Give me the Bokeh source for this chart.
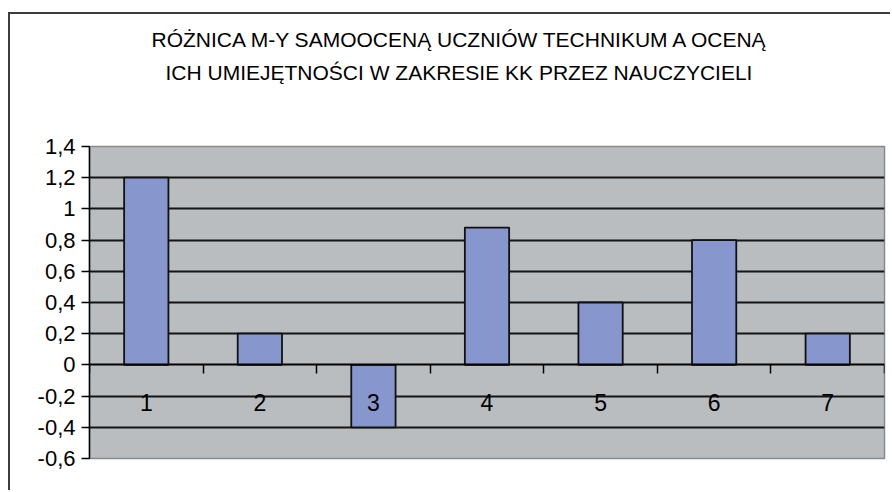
from bokeh.plotting import figure
from bokeh.models import Range1d, FixedTicker, LinearAxis, Title, Grid
from bokeh.embed import file_html
from bokeh.resources import INLINE

# ---- data ----
categories = ["1", "2", "3", "4", "5", "6", "7"]
positions = [1, 2, 3, 4, 5, 6, 7]
values = [1.2, 0.2, -0.4, 0.88, 0.4, 0.8, 0.2]
y_ticks = [-0.6, -0.4, -0.2, 0.0, 0.2, 0.4, 0.6, 0.8, 1.0, 1.2, 1.4]
y_tick_labels = ["-0,6", "-0,4", "-0,2", "0", "0,2", "0,4", "0,6", "0,8", "1", "1,2", "1,4"]
grid_ticks = [-0.4, -0.2, 0.2, 0.4, 0.6, 0.8, 1.0, 1.2]
boundaries = [0.5, 1.5, 2.5, 3.5, 4.5, 5.5, 6.5, 7.5]
title_line1 = "RÓŻNICA M-Y SAMOOCENĄ UCZNIÓW TECHNIKUM A OCENĄ"
title_line2 = "ICH UMIEJĘTNOŚCI W ZAKRESIE KK PRZEZ NAUCZYCIELI"

FONT = "Liberation Sans"

p = figure(width=890, height=490, output_backend="svg", toolbar_location=None,
           x_range=Range1d(0.5, 7.5), y_range=Range1d(-0.6, 1.4),
           x_axis_type=None, y_axis_type=None,
           min_border_left=89, min_border_right=6, min_border_top=146, min_border_bottom=32)
p.border_fill_color = None
p.styles = {
    "background": "linear-gradient(#3c3c3c, #3c3c3c) 8px 12px / 100% 2px no-repeat, "
                  "linear-gradient(#3c3c3c, #3c3c3c) 8px 12px / 2px 100% no-repeat, #ffffff"
}

p.background_fill_color = "#B9BDC0"
p.outline_line_color = "#8a8a8a"
p.outline_line_width = 1.5

# bars
p.vbar(x=positions, top=values, bottom=0, width=0.39,
       fill_color="#8796CC", line_color="#111111", line_width=1.8)

# y axis
yaxis = LinearAxis(ticker=FixedTicker(ticks=y_ticks, minor_ticks=[]))
yaxis.major_label_overrides = {t: l for t, l in zip(y_ticks, y_tick_labels)}
yaxis.major_tick_out = 8
yaxis.major_tick_in = 0
yaxis.major_tick_line_color = "black"
yaxis.major_tick_line_width = 1.5
yaxis.axis_line_color = "black"
yaxis.axis_line_width = 1.5
yaxis.major_label_standoff = 6
yaxis.major_label_text_font = FONT
yaxis.major_label_text_font_size = "22px"
yaxis.major_label_text_color = "black"
p.add_layout(yaxis, "left")

# horizontal grid
grid = Grid(dimension=1, ticker=FixedTicker(ticks=grid_ticks),
            grid_line_color="#141414", grid_line_width=2)
p.add_layout(grid)

# x axis at zero
xaxis = LinearAxis(ticker=FixedTicker(ticks=positions, minor_ticks=boundaries),
                   fixed_location=0)
xaxis.major_label_overrides = {pos: c for pos, c in zip(positions, categories)}
xaxis.major_tick_out = 0
xaxis.major_tick_in = 0
xaxis.minor_tick_out = 9
xaxis.minor_tick_in = 0
xaxis.minor_tick_line_color = "black"
xaxis.minor_tick_line_width = 1.5
xaxis.axis_line_color = "black"
xaxis.axis_line_width = 2
xaxis.major_label_standoff = 20
xaxis.major_label_text_font = FONT
xaxis.major_label_text_font_size = "23px"
xaxis.major_label_text_color = "black"
p.add_layout(xaxis, "below")

# title (two lines); panels stack outward from the frame
spacer = Title(text=" ", standoff=35, text_font=FONT, text_font_size="21px")
t2 = Title(text=title_line2, align="left", offset=76, standoff=5,
           text_font=FONT, text_font_size="21px", text_font_style="normal",
           text_color="black")
t1 = Title(text=title_line1, align="left", offset=62, standoff=11,
           text_font=FONT, text_font_size="21px", text_font_style="normal",
           text_color="black")
p.add_layout(spacer, "above")
p.add_layout(t2, "above")
p.add_layout(t1, "above")

open("out.html", "w").write(file_html(p, INLINE))
